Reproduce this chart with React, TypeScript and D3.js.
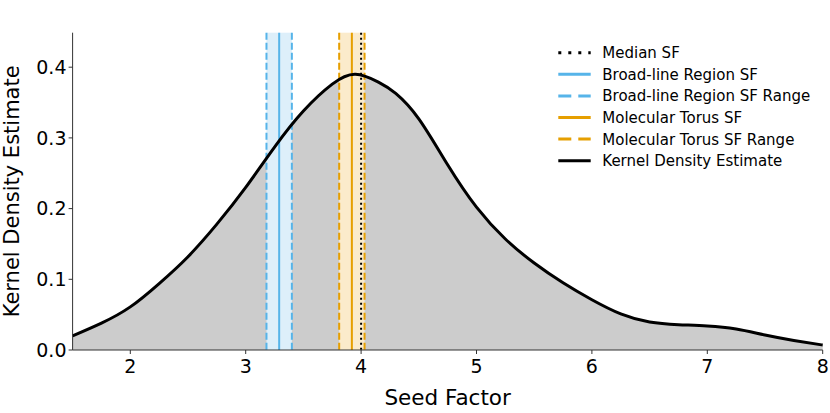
import React from "react";
import * as d3 from "d3";

const kdeX = [1.5, 1.75, 2, 2.25, 2.5, 2.75, 3, 3.25, 3.5, 3.75, 3.95, 4.15, 4.3, 4.5, 4.75, 5, 5.25, 5.5, 5.75, 6, 6.25, 6.5, 6.75, 7, 7.25, 7.5, 7.75, 8];
const kdeY = [0.02, 0.038, 0.061, 0.094, 0.132, 0.178, 0.23, 0.287, 0.338, 0.376, 0.39, 0.379, 0.363, 0.327, 0.262, 0.202, 0.157, 0.123, 0.095, 0.071, 0.051, 0.0395, 0.0358, 0.034, 0.0297, 0.0212, 0.0135, 0.007];

const medianSF = 4.0;
const blrSF = 3.29;
const blrRange = [3.18, 3.4];
const mtSF = 3.92;
const mtRange = [3.81, 4.03];

const xTicks = [2, 3, 4, 5, 6, 7, 8];
const yTicks = [0, 0.1, 0.2, 0.3, 0.4];
const xDomain = [1.5, 8];
const yDomain = [0, 0.4488];

const legendLabels = [
  "Median SF",
  "Broad-line Region SF",
  "Broad-line Region SF Range",
  "Molecular Torus SF",
  "Molecular Torus SF Range",
  "Kernel Density Estimate",
];

const BLUE = "#56B4E9";
const ORANGE = "#E69F00";

export default function App() {
  const W = 830, H = 413;
  const L = 72.6, R = 822.7, T = 32.7, B = 350;
  const x = d3.scaleLinear().domain(xDomain).range([L, R]);
  const y = d3.scaleLinear().domain(yDomain).range([B, T]);
  const pts: [number, number][] = kdeX.map((v, i) => [v, kdeY[i]]);
  const line = d3.line<[number, number]>().x(d => x(d[0])).y(d => y(d[1])).curve(d3.curveNatural);
  const area = d3.area<[number, number]>().x(d => x(d[0])).y0(y(0)).y1(d => y(d[1])).curve(d3.curveNatural);
  const font = "DejaVu Sans, sans-serif";
  const axisColor = "#333";

  const legendStyles = [
    { color: "#000", dash: "3,7", lw: 3 },
    { color: BLUE, dash: "", lw: 3 },
    { color: BLUE, dash: "13,7", lw: 3 },
    { color: ORANGE, dash: "", lw: 3 },
    { color: ORANGE, dash: "13,7", lw: 3 },
    { color: "#000", dash: "", lw: 3 },
  ];

  return (
    <svg width={W} height={H} style={{ position: "absolute", left: 0, top: 0 }} fontFamily={font}>
      <rect x={0} y={0} width={W} height={H} fill="#fff" />
      <path d={area(pts) || ""} fill="#cccccc" />
      <rect x={x(blrRange[0])} y={T} width={x(blrRange[1]) - x(blrRange[0])} height={B - T} fill="#ddeffa" />
      <rect x={x(mtRange[0])} y={T} width={x(mtRange[1]) - x(mtRange[0])} height={B - T} fill="#fbebcb" />
      {blrRange.map((v, i) => (
        <line key={"b" + i} x1={x(v)} x2={x(v)} y1={T} y2={B} stroke={BLUE} strokeWidth={2} strokeDasharray="7,3" />
      ))}
      <line x1={x(blrSF)} x2={x(blrSF)} y1={T} y2={B} stroke={BLUE} strokeWidth={2} />
      {mtRange.map((v, i) => (
        <line key={"m" + i} x1={x(v)} x2={x(v)} y1={T} y2={B} stroke={ORANGE} strokeWidth={2} strokeDasharray="7,3" />
      ))}
      <line x1={x(mtSF)} x2={x(mtSF)} y1={T} y2={B} stroke={ORANGE} strokeWidth={2} />
      <line x1={x(medianSF)} x2={x(medianSF)} y1={T} y2={B} stroke="#000" strokeWidth={2} strokeDasharray="2,3" />
      <path d={line(pts) || ""} fill="none" stroke="#000" strokeWidth={3} />
      <line x1={L} x2={L} y1={T} y2={B} stroke={axisColor} strokeWidth={1} />
      <line x1={L} x2={R} y1={B} y2={B} stroke={axisColor} strokeWidth={1} />
      {xTicks.map(t => (
        <g key={"xt" + t}>
          <line x1={x(t)} x2={x(t)} y1={B} y2={B + 4} stroke={axisColor} strokeWidth={1} />
          <text x={x(t)} y={373} textAnchor="middle" fontSize={19} fill="#000">{t}</text>
        </g>
      ))}
      {yTicks.map(t => (
        <g key={"yt" + t}>
          <line x1={L - 4} x2={L} y1={y(t)} y2={y(t)} stroke={axisColor} strokeWidth={1} />
          <text x={66.5} y={y(t)} dy="0.36em" textAnchor="end" fontSize={19} fill="#000">{t.toFixed(1)}</text>
        </g>
      ))}
      <text x={(L + R) / 2} y={405} textAnchor="middle" fontSize={21.5} fill="#000">Seed Factor</text>
      <text transform={`translate(19,${(T + B) / 2}) rotate(-90)`} textAnchor="middle" fontSize={21} fill="#000">Kernel Density Estimate</text>
      {legendLabels.map((lab, i) => {
        const yy = 52.7 + i * 21.6;
        const s = legendStyles[i];
        return (
          <g key={lab}>
            <line x1={558.3} x2={590.7} y1={yy} y2={yy} stroke={s.color} strokeWidth={s.lw} strokeDasharray={s.dash || undefined} />
            <text x={602.3} y={yy} dy="0.36em" fontSize={15} fill="#000">{lab}</text>
          </g>
        );
      })}
    </svg>
  );
}
